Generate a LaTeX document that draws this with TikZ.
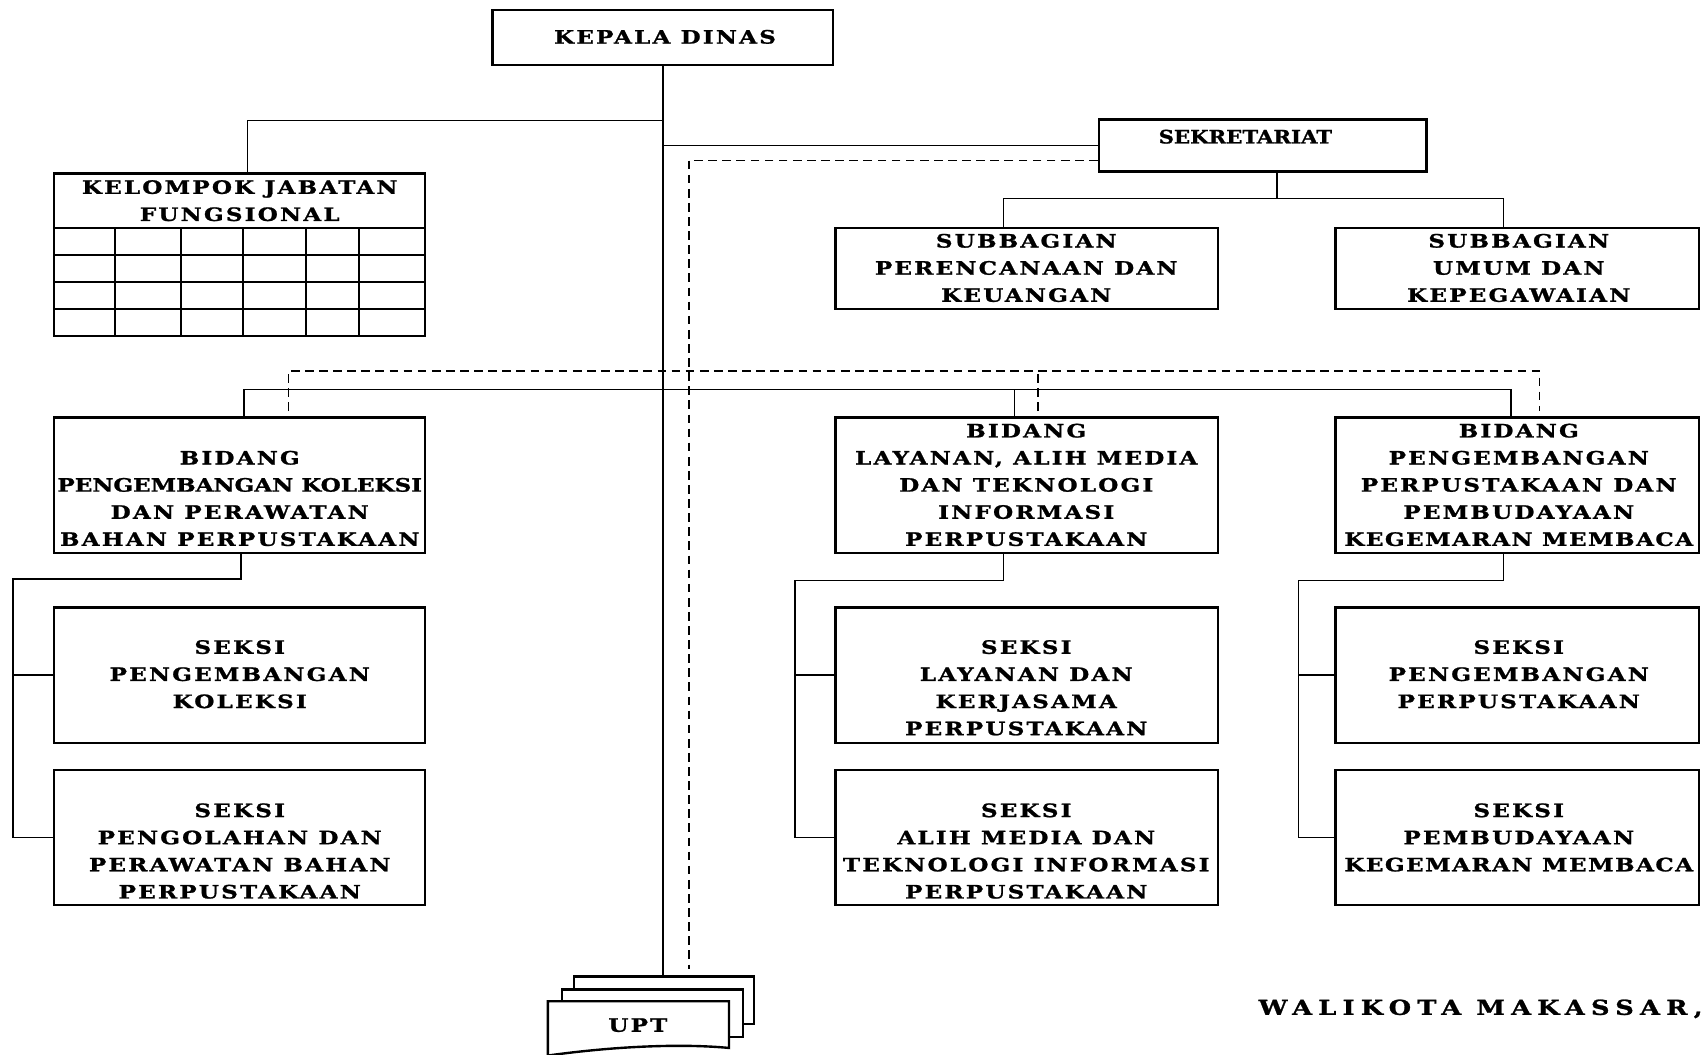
\documentclass[tikz,border=0pt]{standalone}
\usepackage{fontspec}
\setmainfont{DejaVu Serif}
\newfontfamily\orgfont{DejaVu Serif Bold}[LetterSpace=12, FakeStretch=1.25, FakeBold=1.2]
\newfontfamily\sekfont{DejaVu Serif Bold}[FakeStretch=1.15, FakeBold=1.2]
\newfontfamily\wkfont{DejaVu Serif Bold}[LetterSpace=30, FakeStretch=1.25, FakeBold=1.2]
\usetikzlibrary{calc}
\tikzset{
  box/.style={draw, line width=2.2pt, inner sep=0pt, fill=white},
  txt/.style={font=\orgfont\fontsize{17}{25}\selectfont, align=center, inner sep=0pt},
  conn/.style={line width=1.5pt},
  dsh/.style={line width=1.5pt, dash pattern=on 8pt off 5pt},
}
\begin{document}
\begin{tikzpicture}[x=1pt,y=-1pt]
\useasboundingbox (0,0) rectangle (1568,972);

% boxes
\node[box, minimum width=314pt, minimum height=51pt] (kd) at (611,34.5) {};
\node[txt] (kdt) at (613,34) {KEPALA DINAS};
\node[box, minimum width=342pt, minimum height=150pt] (kjf) at (221,235) {};
\node[box, minimum width=302pt, minimum height=48pt] (sek) at (1164,134) {};
\node[box, minimum width=353pt, minimum height=75pt] (sb1) at (946.5,247.5) {};
\node[box, minimum width=335pt, minimum height=75pt] (sb2) at (1398.5,247.5) {};
\node[box, minimum width=342pt, minimum height=125pt] (bl) at (221,447.5) {};
\node[box, minimum width=353pt, minimum height=125pt] (bm) at (946.5,447.5) {};
\node[box, minimum width=335pt, minimum height=125pt] (br) at (1398.5,447.5) {};
\node[box, minimum width=342pt, minimum height=125pt] (sl1) at (221,622.5) {};
\node[box, minimum width=342pt, minimum height=124pt] (sl2) at (221,772) {};
\node[box, minimum width=353pt, minimum height=125pt] (sm1) at (946.5,622.5) {};
\node[box, minimum width=353pt, minimum height=124pt] (sm2) at (946.5,772) {};
\node[box, minimum width=335pt, minimum height=125pt] (sr1) at (1398.5,622.5) {};
\node[box, minimum width=335pt, minimum height=124pt] (sr2) at (1398.5,772) {};

% table grid of kelompok jabatan fungsional
\foreach \yy in {210,235,260,285}
  \draw[line width=2.2pt] (50,\yy) -- (392,\yy);
\foreach \xx in {106,167,224,282,331}
  \draw[line width=2.2pt] (\xx,210) -- (\xx,310);

% texts
\node[txt] (kjft) at (221,185) {KELOMPOK JABATAN\\FUNGSIONAL};
\node[font=\sekfont\fontsize{17}{25}\selectfont, inner sep=0pt] (sekt) at (1148,126) {SEKRETARIAT};
\node[txt] (sb1t) at (946,247) {SUBBAGIAN\\PERENCANAAN DAN\\KEUANGAN};
\node[txt] (sb2t) at (1400,247) {SUBBAGIAN\\UMUM DAN\\KEPEGAWAIAN};
\node[txt] (blt) at (221,459.5) {BIDANG\\{\addfontfeature{LetterSpace=0}PENGEMBANGAN KOLEKSI}\\DAN PERAWATAN\\BAHAN PERPUSTAKAAN};
\node[txt] (bmt) at (946,447) {BIDANG\\LAYANAN, ALIH MEDIA\\DAN TEKNOLOGI\\INFORMASI\\PERPUSTAKAAN};
\node[txt] (brt) at (1400,447) {BIDANG\\PENGEMBANGAN\\PERPUSTAKAAN DAN\\PEMBUDAYAAN\\{\addfontfeature{LetterSpace=8}KEGEMARAN MEMBACA}};
\node[txt] (sl1t) at (221,621.5) {SEKSI\\PENGEMBANGAN\\KOLEKSI};
\node[txt] (sl2t) at (221,784.5) {SEKSI\\PENGOLAHAN DAN\\PERAWATAN BAHAN\\PERPUSTAKAAN};
\node[txt] (sm1t) at (946,634) {SEKSI\\LAYANAN DAN\\KERJASAMA\\PERPUSTAKAAN};
\node[txt] (sm2t) at (946,784.5) {SEKSI\\ALIH MEDIA DAN\\TEKNOLOGI INFORMASI\\PERPUSTAKAAN};
\node[txt] (sr1t) at (1400,621.5) {SEKSI\\PENGEMBANGAN\\PERPUSTAKAAN};
\node[txt] (sr2t) at (1400,772) {SEKSI\\PEMBUDAYAAN\\{\addfontfeature{LetterSpace=8}KEGEMARAN MEMBACA}};

% UPT stack
\node[box, minimum width=166pt, minimum height=44pt] (upt3) at (612,922) {};
\node[box, minimum width=167pt, minimum height=44pt] (upt2) at (601.5,934) {};
\draw[line width=2.2pt, fill=white] (505,923) -- (672,923) -- (672,966)
   .. controls (630,962) and (570,964) .. (505,973) -- cycle;
\node[txt] (upt) at (588,945) {UPT};

\node[font=\wkfont\fontsize{19}{25}\selectfont, inner sep=0pt, anchor=west] (wk) at (1160,930) {WALIKOTA MAKASSAR,};

% connectors
\coordinate (dj) at (635,893);
\coordinate (sj) at (1177,183);
\coordinate (bj) at (611,359);
\coordinate (dk) at (635,342);
\coordinate (lv) at (12,534);
\coordinate (mv) at (733,535);
\coordinate (rv) at (1197,535);

\draw[conn] (kd.south) -- (kd.south |- upt3.north);
\draw[conn] ([xshift=7pt]kjf.north) |- (kd.south |- 0,111);
\draw[conn] (sek.west) -- (sek.west -| kd.south);
\draw[dsh] ($(sek.west)+(0,14)$) -| (dj);
\draw[conn] (sj |- sek.south) -- (sj);
\draw[conn] ([xshift=-21.5pt]sb1.north) |- (sj) -| ([xshift=-12.5pt]sb2.north);

\draw[conn] ([xshift=4pt]bl.north) |- (bj) -| ([xshift=-5.5pt]br.north);
\draw[conn] ([xshift=-11.5pt]bm.north) -- ([xshift=-11.5pt]bm.north |- bj);
\draw[dsh] ([xshift=45pt,yshift=5pt]bl.north) |- (dk) -| ([xshift=20.5pt,yshift=5pt]br.north);
\draw[dsh] ([xshift=10.5pt,yshift=5pt]bm.north) -- ([xshift=10.5pt]bm.north |- dk);

\draw[conn] ([xshift=1pt]bl.south) |- (lv) |- (sl2.west);
\draw[conn] (lv |- sl1.west) -- (sl1.west);
\draw[conn] ([xshift=-21.5pt]bm.south) |- (mv) |- (sm2.west);
\draw[conn] (mv |- sm1.west) -- (sm1.west);
\draw[conn] ([xshift=-12.5pt]br.south) |- (rv) |- (sr2.west);
\draw[conn] (rv |- sr1.west) -- (sr1.west);
\end{tikzpicture}
\end{document}
